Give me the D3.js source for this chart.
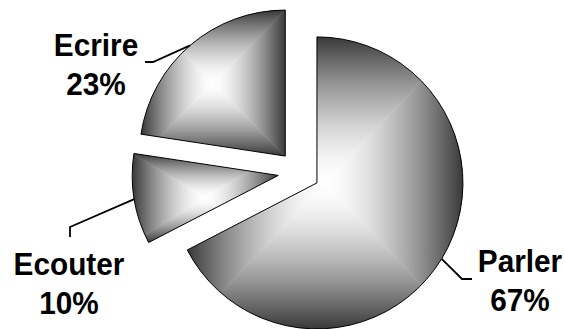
<!DOCTYPE html>
<html><head><meta charset="utf-8">
<script src="https://cdn.jsdelivr.net/npm/d3@7"></script>
<style>body{margin:0;background:#fff}svg{display:block}</style>
</head><body><svg id="c" width="565" height="329"></svg>
<script>
// ---- data ----
const categories = ["Parler", "Ecouter", "Ecrire"];
const values = [67.4, 10.0, 22.6];
const percentLabels = ["67%", "10%", "23%"];

// ---- layout ----
const W = 565, H = 329;
const cx = 299, cy = 172, R = 146, explode = 21;
const labelPos = [[520, 272], [69, 275], [96, 56]];   // centre x, first baseline
const leaderPts = [[[462, 279], [472, 279]], [[70, 227], [70, 237]], [[153, 62], [145, 62]]];
const lineGap = 39, fontSize = 31, textScaleX = 0.96;
const darkV = 56, lightV = 255, gamma = 1.6;
const stopOffsets = [0, 0.1, 0.2, 0.3, 0.4, 0.5, 0.6, 0.7, 0.8, 0.9, 1];

const svg = d3.select("#c");
const defs = svg.append("defs");
const pie = d3.pie().sort(null).value(d => d);
const arcs = pie(values);
const arcGen = d3.arc().innerRadius(0).outerRadius(R);
const shade = t => { const v = Math.round(lightV - (lightV - darkV) * Math.pow(t, gamma)); return d3.rgb(v, v, v).formatHex(); };

arcs.forEach((d, i) => {
  const mid = (d.startAngle + d.endAngle) / 2;
  const ox = cx + explode * Math.sin(mid), oy = cy - explode * Math.cos(mid);
  const g = svg.append("g").attr("transform", `translate(${ox},${oy})`);
  const pathD = arcGen(d);
  const tmp = g.append("path").attr("d", pathD).attr("fill", "none");
  const bb = tmp.node().getBBox();
  tmp.remove();
  const x0 = bb.x, y0 = bb.y, x1 = bb.x + bb.width, y1 = bb.y + bb.height;
  const mx = (x0 + x1) / 2, my = (y0 + y1) / 2;

  defs.append("clipPath").attr("id", "clip" + i).append("path").attr("d", pathD);

  const tris = [
    {pts: [[x0, y0], [x1, y0], [mx, my]], g: [mx, my, mx, y0]},
    {pts: [[x0, y1], [x1, y1], [mx, my]], g: [mx, my, mx, y1]},
    {pts: [[x0, y0], [x0, y1], [mx, my]], g: [mx, my, x0, my]},
    {pts: [[x1, y0], [x1, y1], [mx, my]], g: [mx, my, x1, my]}
  ];
  const cg = g.append("g").attr("clip-path", `url(#clip${i})`);
  tris.forEach((t, k) => {
    const id = `gr${i}_${k}`;
    const lg = defs.append("linearGradient").attr("id", id)
      .attr("gradientUnits", "userSpaceOnUse")
      .attr("x1", t.g[0]).attr("y1", t.g[1])
      .attr("x2", t.g[2]).attr("y2", t.g[3]);
    stopOffsets.forEach(o => lg.append("stop").attr("offset", o).attr("stop-color", shade(o)));
    cg.append("polygon")
      .attr("points", t.pts.map(p => p.join(",")).join(" "))
      .attr("fill", `url(#${id})`)
      .attr("stroke", `url(#${id})`).attr("stroke-width", 0.6);
  });
  g.append("path").attr("d", pathD).attr("fill", "none")
    .attr("stroke", "#000").attr("stroke-width", 1);

  // leader line
  const sx = ox + R * Math.sin(mid), sy = oy - R * Math.cos(mid);
  const pts = [[sx, sy]].concat(leaderPts[i]);
  svg.append("path").attr("d", d3.line()(pts))
    .attr("fill", "none").attr("stroke", "#000").attr("stroke-width", 1.8);

  // label
  const [lx, ly] = labelPos[i];
  [categories[i], percentLabels[i]].forEach((txt, j) => {
    svg.append("text")
      .attr("transform", `translate(${lx},${ly + j * lineGap}) scale(${textScaleX},1)`)
      .attr("text-anchor", "middle")
      .attr("font-family", "'Liberation Sans', Arial, sans-serif")
      .attr("font-weight", "bold")
      .attr("font-size", fontSize)
      .attr("fill", "#000")
      .text(txt);
  });
});
</script></body></html>
